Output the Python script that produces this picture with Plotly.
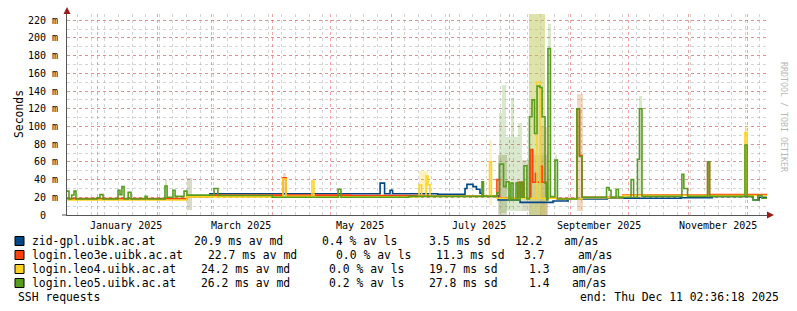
import plotly.graph_objects as go
import pandas as pd

BASE = pd.Timestamp("2025-01-01")

# ---- data: step series (day offset from 2025-01-01, value in ms) ----
blue_day = [-15.4, 46.2, 58, 145.4, 147.7, 150.5, 151.8, 175, 189, 190, 193.1, 194.9, 196.7,
            198, 206, 217.3, 234.2, 241.9, 262, 300, 316, 337, 340, 344.1]
blue_ms = [18, 21, 24, 36, 24, 28, 24, 23.5, 30, 34.6, 32, 29, 24.5,
           21.8, 17, 14.3, 15.8, 18, 19, 19.5, 21, 17, 20, 20]

orange_day = [-15.4, 46.2, 58, 95.5, 97.1, 130, 170, 205.4, 206.7, 216.2, 217.3, 218.3, 219.3,
              222.8, 223.8, 225.2, 226.1, 227.5, 228.6, 230.7, 236, 246.5, 247.8, 249.1, 270,
              313.6, 314.6, 344.1]
orange_ms = [18.5, 21, 22.5, 42, 22.5, 22, 21.5, 40, 19, 37, 19, 37, 19,
             74, 37, 47, 37, 55, 37, 19, 18.5, 120, 67, 20, 22.5,
             59.4, 23, 23]

yellow_day = [-15.4, 46.2, 95.5, 97.1, 110.4, 111.4, 165.4, 166.7, 169, 170, 171, 201.6, 202.6,
              205.4, 226.0, 227.5, 236.5, 249.1, 270, 332.8, 333.9, 344.1]
yellow_ms = [17, 20.5, 40.6, 21, 38.4, 20.5, 33.8, 21, 44, 34, 21, 60, 21,
             19, 150, 19, 18, 19.5, 22, 93, 22, 22]

green_day = [-15.4, -14.4, -13, -11.8, -10.8, 0, 1.5, 3.1, 10.8, 11.8, 12.8, 13.9, 16, 17.5,
             24.7, 25.7, 34.9, 36, 39, 40.1, 44.7, 46.2, 60.1, 62.1, 90, 123.8, 125.3, 160,
             197.7, 198.5, 205.4, 206.7, 208.8, 210.1, 211.6, 212.6, 213.7, 215.2, 216.2, 217.3,
             218.3, 219.3, 220.8, 222.1, 223.4, 224.7, 226.0, 227.5, 228.6, 230.1, 231.0, 231.6,
             232.9, 235.2, 236.5, 246.5, 247.8, 249.1, 261.7, 263.0, 264.0, 266.6, 267.8, 274.3,
             275.6, 277.6, 278.6, 279.9, 300.4, 301.4, 303.3, 313.6, 314.6, 332.8, 333.9, 337,
             339.4, 341.5, 344.1]
green_ms = [27, 18, 22.6, 27, 18, 19.5, 23, 18, 28, 23, 32, 18, 25.6, 18,
            21, 18, 32.7, 20, 28, 21, 27, 22.5, 30, 22, 20, 29, 20, 21,
            37.6, 21, 25, 57.5, 32, 37.6, 17, 36, 17, 36, 17, 37,
            20, 55.6, 18, 111, 130, 92, 145.5, 144, 111, 36, 17, 188,
            20.7, 62, 18, 120, 66, 20, 31, 28, 20, 29, 20, 40,
            20, 63, 120, 21, 46, 30, 21, 60, 21, 79, 21, 17,
            22, 19, 19]

# ---- smoke (spread) bands ----
smoke_start = [46.0, 34.9, 95.5, 165.4, 201.5, 205.7, 206.7, 207.9, 209.9, 212.6, 214.2, 216.4,
               218.1, 222.0, 221.8, 227.5, 231.8, 235.2, 246.4, 278.5, 332.8]
smoke_end = [48.6, 36.0, 97.1, 170.0, 202.7, 210.5, 207.9, 209.9, 212.6, 214.2, 216.2, 218.1,
             222.0, 230.1, 231.6, 231.1, 233.2, 236.3, 249.4, 279.9, 333.9]
smoke_low = [5.6, 18, 20, 20, 11, 0, 2, 2, 5, 5, 5, 5,
             5, 0, 0, 0, 20, 20, 4, 20, 20]
smoke_high = [42, 40, 47, 50, 85, 68, 115, 147, 88, 132, 88, 104,
              62, 227, 68, 99, 216, 68, 137, 134, 100]
smoke_kind = [0, 1, 2, 3, 3, 0, 1, 1, 1, 1, 1, 1,
              0, 4, 0, 2, 1, 1, 2, 1, 3]

hosts = ["zid-gpl.uibk.ac.at", "login.leo3e.uibk.ac.at", "login.leo4.uibk.ac.at", "login.leo5.uibk.ac.at"]
av_md = ["20.9", "22.7", "24.2", "26.2"]
av_ls = ["0.4", "0.0", "0.0", "0.2"]
sd = ["3.5", "11.3", "19.7", "27.8"]
am_as = ["12.2", "3.7", "1.3", "1.4"]

month_labels = ["January 2025", "March 2025", "May 2025", "July 2025", "September 2025", "November 2025"]
month_label_dates = ["2025-01-16", "2025-03-16", "2025-05-16", "2025-07-16", "2025-09-16", "2025-11-16"]

y_ticks = list(range(0, 221, 20))
y_text = ["0\u00a0\u00a0"] + [f"{v} m" for v in y_ticks[1:]]

# ---- styles ----
colors = ["#004586", "#ff420e", "#ffd320", "#579d1c"]
smoke_colors = ["rgba(150,150,100,0.35)", "rgba(87,157,28,0.22)", "rgba(210,130,60,0.30)",
                "rgba(255,211,32,0.30)", "rgba(190,200,90,0.50)"]
MONO = "DejaVu Sans Mono"


def to_dates(days):
    return [BASE + pd.Timedelta(days=d) for d in days]


fig = go.Figure()

# smoke bars
for k in range(len(smoke_colors)):
    idx = [i for i in range(len(smoke_kind)) if smoke_kind[i] == k]
    if not idx:
        continue
    centers = to_dates([(smoke_start[i] + smoke_end[i]) / 2 for i in idx])
    widths = [(smoke_end[i] - smoke_start[i]) * 86400000 for i in idx]
    fig.add_trace(go.Bar(
        x=centers, y=[smoke_high[i] - smoke_low[i] for i in idx],
        base=[smoke_low[i] for i in idx], width=widths,
        marker=dict(color=smoke_colors[k], line=dict(width=0)),
        showlegend=False, hoverinfo="skip"))

series = [(blue_day, blue_ms), (orange_day, orange_ms), (yellow_day, yellow_ms), (green_day, green_ms)]
for (d, v), c in zip(series, colors):
    fig.add_trace(go.Scatter(x=to_dates(d), y=v, mode="lines",
                             line=dict(color=c, width=1.6, shape="hv"),
                             showlegend=False, hoverinfo="skip"))

L, R, T, B = 67, 30, 14, 96
W, H = 797, 311
PW, PH = W - L - R, H - T - B


def xp(px):
    return (px - L) / PW


def yp(py):
    return (T + PH - py) / PH


annotations = []
shapes = []

# month labels
for lab, dt in zip(month_labels, month_label_dates):
    annotations.append(dict(x=dt, xref="x", y=yp(225), yref="paper", text=lab, showarrow=False,
                            xanchor="center", yanchor="middle", font=dict(family=MONO, size=10, color="#000")))

# y title
annotations.append(dict(x=xp(10), y=yp(114), xref="paper", yref="paper", text="Seconds", textangle=-90,
                        showarrow=False, font=dict(family=MONO, size=11.4, color="#000")))
# watermark
annotations.append(dict(x=xp(791), y=yp(60), xref="paper", yref="paper", text="RRDTOOL / TOBI OETIKER",
                        textangle=90, showarrow=False, font=dict(family=MONO, size=8.3, color="#b8b8b8")))

# legend
row_y = [241, 255, 269, 283]
col_x = [[193.3, 321.3, 428.3, 514.3, 563.3],
         [207.3, 335.0, 435.0, 522.7, 576.7],
         [200.0, 328.3, 428.3, 528.3, 570.7],
         [200.0, 328.3, 428.3, 528.3, 570.7]]
lfont = dict(family=MONO, size=11.4, color="#000")
for i, h in enumerate(hosts):
    y = row_y[i]
    shapes.append(dict(type="rect", xref="paper", yref="paper", x0=xp(15), x1=xp(24),
                       y0=yp(y + 4.5), y1=yp(y - 4.5), fillcolor=colors[i], line=dict(color="#000", width=1)))
    texts = [h, f"{av_md[i]} ms av md", f"{av_ls[i]} % av ls", f"{sd[i]} ms sd", am_as[i], "am/as"]
    xs = [31] + col_x[i]
    for t, x in zip(texts, xs):
        annotations.append(dict(x=xp(x - 1), y=yp(y), xref="paper", yref="paper", text=t, showarrow=False,
                                xanchor="left", yanchor="middle", font=lfont))
annotations.append(dict(x=xp(16), y=yp(297), xref="paper", yref="paper", text="SSH requests", showarrow=False,
                        xanchor="left", yanchor="middle", font=lfont))
annotations.append(dict(x=xp(781), y=yp(297), xref="paper", yref="paper", text="end: Thu Dec 11 02:36:18 2025",
                        showarrow=False, xanchor="right", yanchor="middle", font=lfont))

# axis arrows / extensions
arrow_c = "#9b1b1b"
shapes.append(dict(type="path", xref="paper", yref="paper",
                   path=f"M {xp(767)},{yp(211.5)} L {xp(774)},{yp(215)} L {xp(767)},{yp(218.5)} Z",
                   fillcolor=arrow_c, line=dict(color=arrow_c, width=0)))
shapes.append(dict(type="path", xref="paper", yref="paper",
                   path=f"M {xp(63.5)},{yp(14)} L {xp(67)},{yp(7)} L {xp(70.5)},{yp(14)} Z",
                   fillcolor=arrow_c, line=dict(color=arrow_c, width=0)))
shapes.append(dict(type="line", xref="paper", yref="paper", x0=xp(62), x1=xp(67), y0=yp(215), y1=yp(215),
                   line=dict(color="#555", width=1)))

major_grid = "rgba(225,90,90,0.55)"
minor_grid = "rgba(170,170,170,0.5)"

fig.update_layout(
    width=W, height=H, margin=dict(l=L, r=R, t=T, b=B),
    paper_bgcolor="white", plot_bgcolor="white",
    barmode="overlay", bargap=0,
    showlegend=False, hovermode=False,
    annotations=annotations, shapes=shapes,
    xaxis=dict(type="date", range=["2024-12-16 14:10", "2025-12-11 02:36"],
               tick0="2025-01-01", dtick="M1", showticklabels=False, ticks="",
               showgrid=True, gridcolor=major_grid, griddash="dot", gridwidth=1,
               minor=dict(tick0="2025-01-05", dtick=7 * 86400000, showgrid=True, gridcolor=minor_grid,
                          griddash="dot", gridwidth=1, ticks=""),
               showline=True, linecolor="#555", linewidth=1, zeroline=False, fixedrange=True),
    yaxis=dict(range=[0, 227], tickvals=y_ticks, ticktext=y_text, ticks="",
               tickfont=dict(family=MONO, size=10, color="#000"), ticklabelstandoff=6,
               showgrid=True, gridcolor=major_grid, griddash="dot", gridwidth=1,
               minor=dict(dtick=10, showgrid=True, gridcolor=minor_grid, griddash="dot", gridwidth=1, ticks=""),
               showline=True, linecolor="#555", linewidth=1, zeroline=False, fixedrange=True),
)

fig.write_html("out.html", config={"displayModeBar": False, "staticPlot": True})
